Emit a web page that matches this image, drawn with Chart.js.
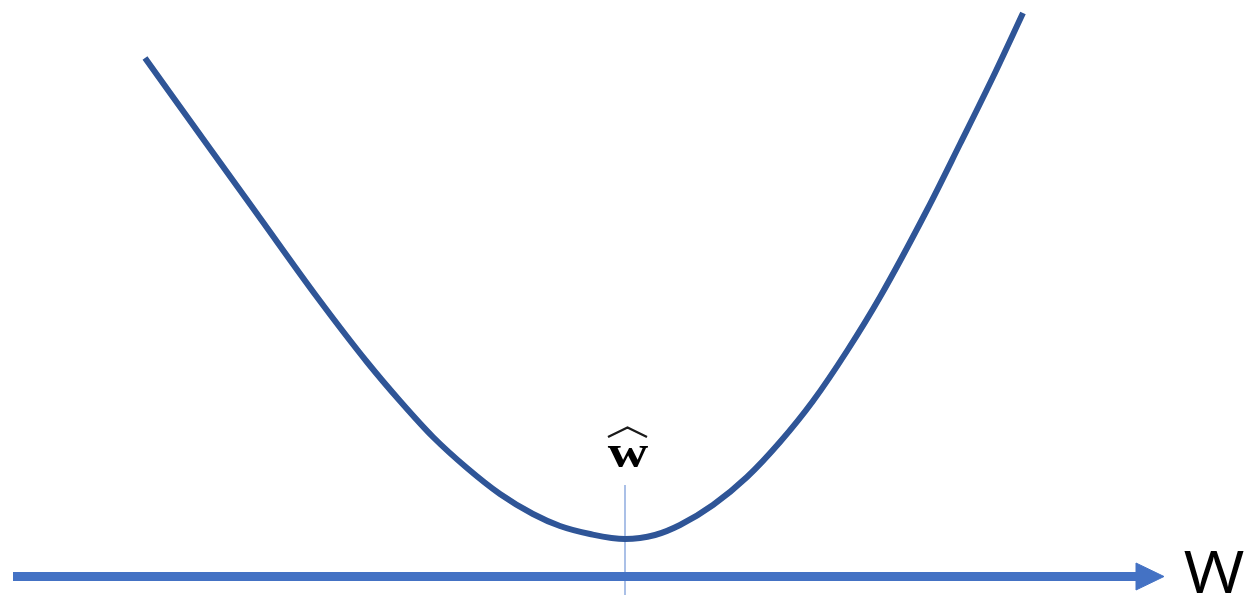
<!DOCTYPE html>
<html>
<head>
<meta charset="utf-8">
<script src="https://cdn.jsdelivr.net/npm/chart.js@4.4.0/dist/chart.umd.min.js"></script>
<style>
  html, body { margin: 0; padding: 0; background: #ffffff; }
  canvas { display: block; }
</style>
</head>
<body>
<canvas id="graphLoss" width="1246" height="595"></canvas>
<script>
/* donnees de la courbe (x = position sur l'axe w, y = valeur) */
var curveX = [145, 211, 260, 317, 367, 400, 433, 467, 500, 533, 560, 590, 625, 655, 680, 713, 747, 780, 813, 847, 880, 927, 960, 993, 1023]
var curveY = [58, 150, 218, 297, 362, 401, 437, 468, 494, 514, 526, 534, 539, 535, 525, 505, 477, 442, 401, 351, 297, 210, 144, 77, 13]

/* axe horizontal w */
var axisX = [13, 1138]
var axisY = [576.5, 576.5]
var arrowX = [1136, 1164, 1136, 1136]
var arrowY = [563, 576.5, 590, 563]

/* minimum w chapeau */
var wHatX = [625, 625]
var wHatY = [485, 595]

var axisLabel = 'W'
var minLabel = 'w'

function toPoints(xs, ys) {
  return xs.map(function (x, i) { return { x: x, y: ys[i] } })
}

var labelsPlugin = {
  id: 'labels',
  afterDatasetsDraw: function (chart) {
    var ctx = chart.ctx
    var sx = chart.scales.x
    var sy = chart.scales.y
    ctx.save()
    ctx.fillStyle = '#000000'
    ctx.strokeStyle = '#000000'
    ctx.textAlign = 'center'
    ctx.textBaseline = 'alphabetic'

    // label W a droite de la fleche
    ctx.save()
    ctx.translate(sx.getPixelForValue(1214), sy.getPixelForValue(593))
    ctx.scale(1.12, 1)
    ctx.font = '500 59px "Open Sans", sans-serif'
    ctx.fillText(axisLabel, 0, 0)
    ctx.restore()

    // label w chapeau au dessus du minimum
    var cx = sx.getPixelForValue(wHatX[0])
    ctx.save()
    ctx.translate(cx + 3, sy.getPixelForValue(467))
    ctx.scale(1.22, 1)
    ctx.font = 'bold 46px "Liberation Serif", serif'
    ctx.fillText(minLabel, 0, 0)
    ctx.restore()
    ctx.strokeStyle = '#1a1a1a'
    ctx.lineWidth = 2.4
    ctx.lineJoin = 'miter'
    ctx.beginPath()
    ctx.moveTo(cx - 17, sy.getPixelForValue(437))
    ctx.lineTo(cx + 2.5, sy.getPixelForValue(427.5))
    ctx.lineTo(cx + 22, sy.getPixelForValue(437))
    ctx.stroke()
    ctx.restore()
  }
}

var ctx_loss = document.getElementById('graphLoss').getContext('2d')

var data_loss = {
  datasets: [{
    label: 'wHat',
    data: toPoints(wHatX, wHatY),
    showLine: true,
    borderColor: '#7E9FDA',
    borderWidth: 1.3,
    pointRadius: 0,
    fill: false,
    order: 3
  }, {
    label: 'axe',
    data: toPoints(axisX, axisY),
    showLine: true,
    borderColor: '#4472C4',
    borderWidth: 9,
    borderCapStyle: 'butt',
    pointRadius: 0,
    fill: false,
    order: 2
  }, {
    label: 'fleche',
    data: toPoints(arrowX, arrowY),
    showLine: true,
    borderColor: '#4472C4',
    backgroundColor: '#4472C4',
    borderWidth: 1,
    pointRadius: 0,
    fill: 'shape',
    order: 2
  }, {
    label: 'courbe',
    data: toPoints(curveX, curveY),
    showLine: true,
    borderColor: '#2F5597',
    borderWidth: 6,
    borderCapStyle: 'butt',
    cubicInterpolationMode: 'monotone',
    pointRadius: 0,
    fill: false,
    order: 1
  }]
}

var config_loss = {
  type: 'scatter',
  data: data_loss,
  options: {
    responsive: false,
    animation: false,
    events: [],
    layout: { padding: 0 },
    clip: false,
    scales: {
      x: { type: 'linear', min: 0, max: 1246, display: false },
      y: { type: 'linear', min: 0, max: 595, reverse: true, display: false }
    },
    plugins: {
      legend: { display: false },
      tooltip: { enabled: false },
      title: { display: false }
    }
  },
  plugins: [labelsPlugin]
}

var graphLoss = new Chart(ctx_loss, config_loss)
</script>
</body>
</html>
